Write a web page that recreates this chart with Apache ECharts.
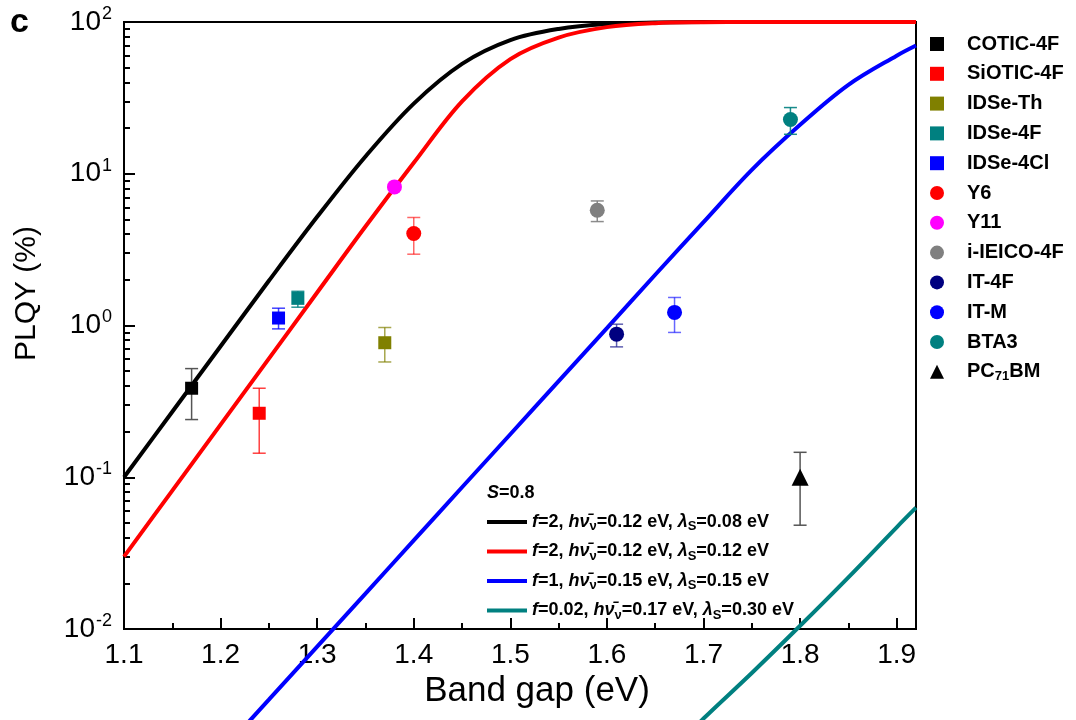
<!DOCTYPE html>
<html><head><meta charset="utf-8">
<script src="https://cdn.jsdelivr.net/npm/echarts@6/dist/echarts.min.js"></script>
<style>html,body{margin:0;padding:0;background:#fff}#c{width:1076px;height:720px}</style>
</head><body><div id="c"></div>
<script>
// ---- data ----
const compounds = ['COTIC-4F','SiOTIC-4F','IDSe-Th','IDSe-4F','IDSe-4Cl','Y6','Y11','i-IEICO-4F','IT-4F','IT-M','BTA3','PC71BM'];
const bandGap  = [1.17, 1.24, 1.37, 1.28, 1.26, 1.40, 1.38, 1.59, 1.61, 1.67, 1.79, 1.80];
const plqy     = [0.386, 0.264, 0.77, 1.51, 1.12, 4.04, 8.19, 5.75, 0.877, 1.22, 22.8, 0.100];
const errLow   = [0.24, 0.144, 0.575, 1.32, 0.95, 2.95, null, 4.84, 0.723, 0.90, 18.2, 0.0483];
const errHigh  = [0.52, 0.386, 0.97, 1.68, 1.30, 5.15, null, 6.62, 1.02, 1.53, 27.3, 0.146];

const curveNames = ['f=2, hv=0.12 eV, λS=0.08 eV','f=2, hv=0.12 eV, λS=0.12 eV','f=1, hv=0.15 eV, λS=0.15 eV','f=0.02, hv=0.17 eV, λS=0.30 eV'];
const curveF   = ['2','2','1','0.02'];
const curveHv  = ['0.12','0.12','0.15','0.17'];
const curveLam = ['0.08','0.12','0.15','0.30'];
const curveBlack = [[1.10,0.10],[1.15,0.27],[1.20,0.73],[1.25,1.97],[1.30,5.2],[1.35,13],[1.40,29],[1.45,53],[1.50,76],[1.55,90],[1.60,97],[1.65,99.3],[1.70,99.9],[1.80,100],[1.92,100]];
const curveRed   = [[1.10,0.030],[1.15,0.0817],[1.20,0.222],[1.25,0.605],[1.30,1.65],[1.35,4.49],[1.40,11.8],[1.45,30],[1.50,57],[1.55,79],[1.60,92.5],[1.65,98.3],[1.70,99.7],[1.75,100],[1.92,100]];
const curveBlue  = [[1.20,0.00153],[1.25,0.00342],[1.30,0.00766],[1.35,0.0171],[1.40,0.0384],[1.45,0.0859],[1.50,0.192],[1.55,0.43],[1.60,0.96],[1.65,2.16],[1.70,4.8],[1.75,10.6],[1.80,21],[1.85,38.5],[1.90,60],[1.92,70]];
const curveTeal  = [[1.68,0.0019],[1.70,0.00257],[1.75,0.00513],[1.80,0.0105],[1.85,0.0219],[1.90,0.0468],[1.92,0.063]];
const xTicks = [1.1,1.2,1.3,1.4,1.5,1.6,1.7,1.8,1.9];
const sParam = '0.8';

// ---- styles ----
const FONT = 'Liberation Sans, Arial, sans-serif';
const markerColors = ['#000000','#ff0000','#808000','#008080','#0000ff','#ff0000','#ff00ff','#808080','#000080','#0000ff','#008080','#000000'];
const errColors = ['#555555','rgba(255,0,0,0.75)','rgba(128,128,0,0.7)','rgba(0,128,128,0.85)','rgba(0,0,255,0.75)','rgba(255,0,0,0.6)','#ff00ff','rgba(128,128,128,0.9)','rgba(40,40,150,0.75)','rgba(0,0,255,0.6)','rgba(0,128,128,0.9)','#555555'];
const markerShapes = ['rect','rect','rect','rect','rect','circle','circle','circle','circle','circle','circle','triangle'];
const markerSizes = [13,13,13,13,13,15,15,15,15,15,15,17];
const curveColors = ['#000000','#ff0000','#0000ff','#008080'];
const curves = [curveBlack, curveRed, curveBlue, curveTeal];

const chart = echarts.init(document.getElementById('c'), null, {renderer:'canvas'});

const series = [];
curves.forEach((c, i) => {
  series.push({
    name: curveNames[i], type: 'line', data: c, symbol: 'none', showSymbol: false,
    smooth: 0.35, clip: false, z: 2,
    lineStyle: {color: curveColors[i], width: 4}, itemStyle: {color: curveColors[i]}
  });
});
const errData = compounds.map((n, i) => [bandGap[i], errLow[i], errHigh[i], i]).filter(d => d[1] != null);
series.push({
  name: 'errorbars', type: 'custom', z: 3, clip: false,
  data: errData,
  renderItem: (params, api) => {
    const x = api.value(0), lo = api.value(1), hi = api.value(2), idx = api.value(3);
    const pLo = api.coord([x, lo]), pHi = api.coord([x, hi]);
    const hw = 6.5;
    const st = {stroke: errColors[idx], lineWidth: 1.5, fill: null};
    return {type: 'group', children: [
      {type: 'line', shape: {x1: pLo[0], y1: pLo[1], x2: pHi[0], y2: pHi[1]}, style: st},
      {type: 'line', shape: {x1: pLo[0]-hw, y1: pLo[1], x2: pLo[0]+hw, y2: pLo[1]}, style: st},
      {type: 'line', shape: {x1: pHi[0]-hw, y1: pHi[1], x2: pHi[0]+hw, y2: pHi[1]}, style: st}
    ]};
  }
});
compounds.forEach((n, i) => {
  series.push({
    name: n, type: 'scatter', z: 4, data: [[bandGap[i], plqy[i]]],
    symbol: markerShapes[i], symbolSize: markerSizes[i],
    itemStyle: {color: markerColors[i], opacity: 1}
  });
});

const legendLabel = {};
curveNames.forEach((n, i) => {
  legendLabel[n] = '{i|f}=' + curveF[i] + ', {i|h}{i|ν̄}{sub|ν}=' + curveHv[i] + ' eV, {i|λ}{sub|S}=' + curveLam[i] + ' eV';
});

const option = {
  backgroundColor: '#fff',
  animation: false,
  grid: {left: 124, right: 160, top: 22, bottom: 91, show: true, borderColor: '#000', borderWidth: 2},
  xAxis: {
    type: 'value', min: 1.1, max: 1.92, interval: 0.1,
    name: 'Band gap (eV)', nameLocation: 'middle', nameGap: 42,
    nameTextStyle: {fontSize: 35, fontFamily: FONT, color: '#000', padding: [0,0,0,34]},
    axisLine: {show: true, lineStyle: {color: '#000', width: 2}},
    axisTick: {show: true, inside: true, length: 11, lineStyle: {color: '#000', width: 2}},
    minorTick: {show: true, splitNumber: 2, length: 6, lineStyle: {color: '#000', width: 2}},
    splitLine: {show: false}, minorSplitLine: {show: false},
    axisLabel: {fontSize: 28, fontFamily: FONT, color: '#000', margin: 12,
      formatter: v => (xTicks.some(t => Math.abs(t - v) < 1e-6) ? v.toFixed(1) : '')}
  },
  yAxis: {
    type: 'log', logBase: 10, min: 0.01, max: 100,
    name: 'PLQY (%)', nameLocation: 'middle', nameGap: 82,
    nameTextStyle: {fontSize: 30, fontFamily: FONT, color: '#000', padding: [0,0,0,64]},
    axisLine: {show: true, lineStyle: {color: '#000', width: 2}},
    axisTick: {show: true, inside: true, length: 11, lineStyle: {color: '#000', width: 2}},
    minorTick: {show: true, splitNumber: 9, length: 6, lineStyle: {color: '#000', width: 2}},
    splitLine: {show: false}, minorSplitLine: {show: false},
    axisLabel: {margin: 12, color: '#000',
      formatter: v => '{b|10}{s|' + Math.round(Math.log10(v)) + '}',
      rich: {b: {fontSize: 28, fontFamily: FONT, color: '#000'},
             s: {fontSize: 18, fontFamily: FONT, color: '#000', padding: [0,0,16,1]}}}
  },
  legend: [{
    data: compounds, orient: 'vertical', left: 925, top: 29,
    itemWidth: 14, itemHeight: 14, itemGap: 9.8,
    textStyle: {fontSize: 20, fontWeight: 'bold', fontFamily: FONT, color: '#000', padding: [0,0,0,18],
      rich: {sub: {fontSize: 13, fontWeight: 'bold', fontFamily: FONT, color: '#000', padding: [10,0,0,0]}}},
    formatter: n => n === 'PC71BM' ? 'PC{sub|71}BM' : n,
    selectedMode: false
  }, {
    data: curveNames, orient: 'vertical', left: 482, top: 508,
    icon: 'rect', itemWidth: 40, itemHeight: 4, itemGap: 9.5,
    textStyle: {fontSize: 18, fontWeight: 'bold', fontFamily: FONT, color: '#000',
      rich: {i: {fontSize: 18, fontWeight: 'bold', fontStyle: 'italic', fontFamily: FONT, color: '#000'},
             sub: {fontSize: 13, fontWeight: 'bold', fontFamily: FONT, color: '#000', padding: [9,0,0,0]}}},
    formatter: n => legendLabel[n],
    selectedMode: false
  }],
  graphic: [
    {type: 'text', left: 10, top: 6, style: {text: 'c', font: 'bold 34px ' + FONT, fill: '#000'}},
    {type: 'text', left: 487, top: 484, style: {text: '{i|S}=' + sParam, font: 'bold 18px ' + FONT, fill: '#000',
      rich: {i: {fontStyle: 'italic', fontWeight: 'bold', fontSize: 18, fontFamily: FONT, fill: '#000'}}}}
  ],
  series: series
};
chart.setOption(option);
</script>
</body></html>
